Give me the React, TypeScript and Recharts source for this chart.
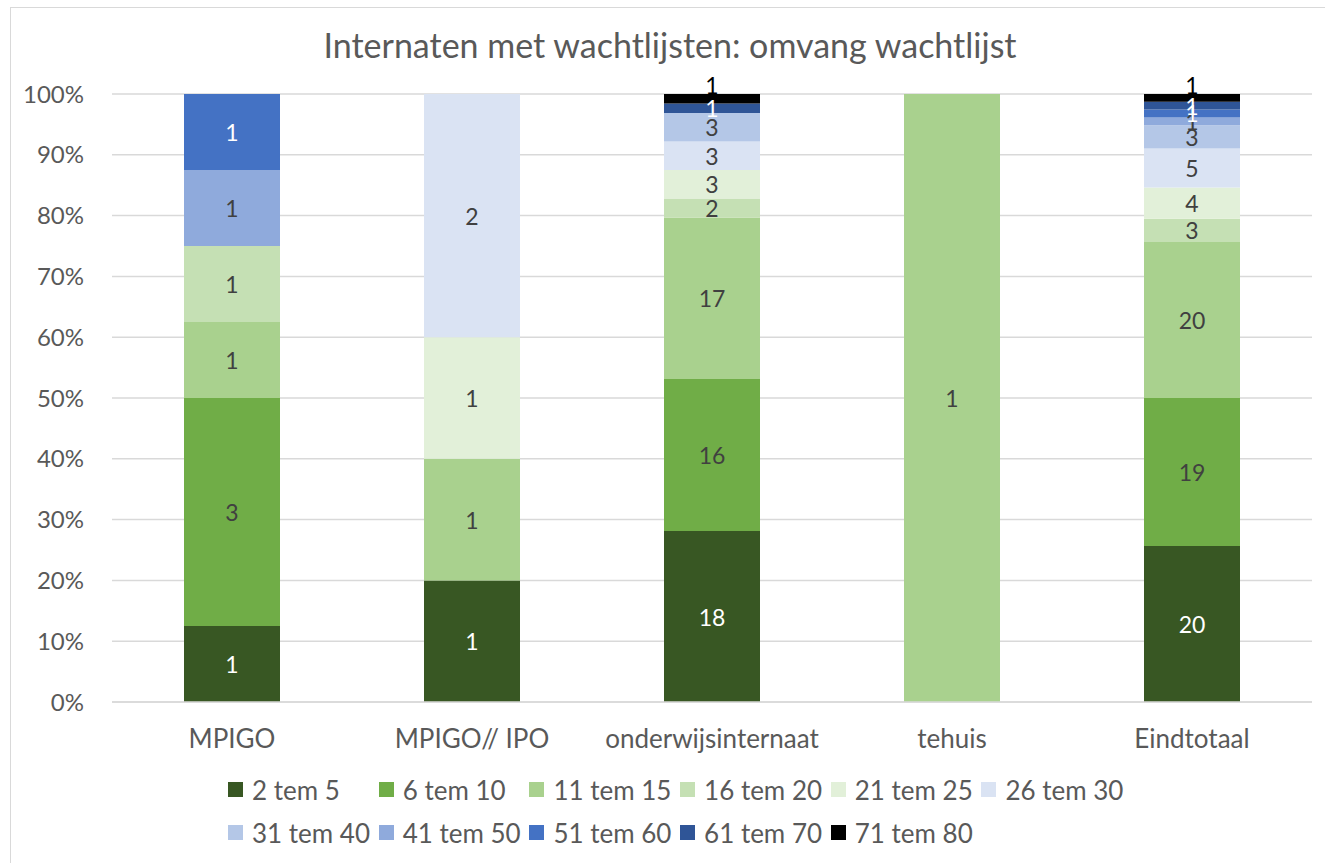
import React from 'react';
import { BarChart, Bar, XAxis, YAxis, CartesianGrid, LabelList } from 'recharts';

const categories = ['MPIGO', 'MPIGO// IPO', 'onderwijsinternaat', 'tehuis', 'Eindtotaal'];

const seriesNames = [
  '2 tem 5', '6 tem 10', '11 tem 15', '16 tem 20', '21 tem 25', '26 tem 30',
  '31 tem 40', '41 tem 50', '51 tem 60', '61 tem 70', '71 tem 80',
];

const seriesColors = [
  '#385723', '#70ad47', '#a9d18e', '#c5e0b4', '#e2f0d9', '#dae3f3',
  '#b4c7e7', '#8faadc', '#4472c4', '#2f5597', '#000000',
];

const labelColors = [
  '#ffffff', '#404040', '#404040', '#404040', '#404040', '#404040',
  '#404040', '#404040', '#ffffff', '#ffffff', '#000000',
];

const s2tem5 = [1, 1, 18, 0, 20];
const s6tem10 = [3, 0, 16, 0, 19];
const s11tem15 = [1, 1, 17, 1, 20];
const s16tem20 = [1, 0, 2, 0, 3];
const s21tem25 = [0, 1, 3, 0, 4];
const s26tem30 = [0, 2, 3, 0, 5];
const s31tem40 = [0, 0, 3, 0, 3];
const s41tem50 = [1, 0, 0, 0, 1];
const s51tem60 = [1, 0, 0, 0, 1];
const s61tem70 = [0, 0, 1, 0, 1];
const s71tem80 = [0, 0, 1, 0, 1];

const seriesValues = [
  s2tem5, s6tem10, s11tem15, s16tem20, s21tem25, s26tem30,
  s31tem40, s41tem50, s51tem60, s61tem70, s71tem80,
];

const yTicks = [0, 0.1, 0.2, 0.3, 0.4, 0.5, 0.6, 0.7, 0.8, 0.9, 1];

const data = categories.map((name, i) => {
  const row: Record<string, any> = { name };
  seriesValues.forEach((vals, s) => {
    row['s' + s] = vals[i];
  });
  return row;
});

const FONT = 'Lato, "Open Sans", sans-serif';
const TEXT = '#595959';

const makeLabel = (s: number) => (props: any) => {
  const { x, y, width, height, value } = props;
  const v = Number(value);
  if (!v) return null;
  const cx = Number(x) + Number(width) / 2;
  const top = Number(y);
  const h = Number(height);
  const isLast = s === seriesValues.length - 1;
  const cy = isLast ? top - 9 : top + h / 2;
  return (
    <text
      x={cx}
      y={cy}
      textAnchor="middle"
      dominantBaseline="central"
      fill={labelColors[s]}
      fontSize={23}
      fontFamily={FONT}
    >
      {v}
    </text>
  );
};

export default function App() {
  return (
    <div
      style={{
        position: 'absolute',
        left: 0,
        top: 0,
        width: 1325,
        height: 863,
        background: '#ffffff',
        overflow: 'hidden',
        fontFamily: FONT,
      }}
    >
      <div
        style={{
          position: 'absolute',
          left: 10,
          top: 7,
          width: 1330,
          height: 880,
          border: '1.5px solid #d9d9d9',
          boxSizing: 'border-box',
        }}
      />
      <div
        style={{
          position: 'absolute',
          left: 10,
          width: 1320,
          top: 24,
          textAlign: 'center',
          fontSize: 34,
          color: TEXT,
          lineHeight: '42px',
        }}
      >
        Internaten met wachtlijsten: omvang wachtlijst
      </div>
      <div style={{ position: 'absolute', left: 0, top: 0 }}>
        <BarChart
          width={1325}
          height={863}
          data={data}
          stackOffset="expand"
          barCategoryGap="30%"
          margin={{ top: 94, right: 13, bottom: 131, left: 12 }}
        >
          <CartesianGrid vertical={false} stroke="#d9d9d9" strokeWidth={1.5} />
          <XAxis
            dataKey="name"
            height={30}
            tickLine={false}
            axisLine={{ stroke: '#d9d9d9', strokeWidth: 1.5 }}
            tick={{ fill: TEXT, fontSize: 26, fontFamily: FONT }}
            tickMargin={22}
            interval={0}
          />
          <YAxis
            width={100}
            domain={[0, 1]}
            ticks={yTicks}
            tickFormatter={(v: number) => `${Math.round(v * 100)}%`}
            axisLine={false}
            tickLine={false}
            tickMargin={22}
            tick={{ fill: TEXT, fontSize: 24, fontFamily: FONT }}
          />
          {seriesNames.map((name, s) => (
            <Bar
              key={name}
              dataKey={'s' + s}
              name={name}
              stackId="a"
              fill={seriesColors[s]}
              isAnimationActive={false}
            >
              <LabelList dataKey={'s' + s} content={makeLabel(s)} />
            </Bar>
          ))}
        </BarChart>
      </div>
      <div
        style={{
          position: 'absolute',
          left: 228,
          top: 768,
          width: 920,
          display: 'flex',
          flexWrap: 'wrap',
        }}
      >
        {seriesNames.map((name, s) => (
          <div
            key={name}
            style={{
              width: 150.7,
              height: 43,
              display: 'flex',
              alignItems: 'center',
              fontSize: 26,
              color: TEXT,
              whiteSpace: 'nowrap',
            }}
          >
            <span
              style={{
                display: 'inline-block',
                width: 15,
                height: 15,
                background: seriesColors[s],
                marginRight: 9,
                flexShrink: 0,
              }}
            />
            {name}
          </div>
        ))}
      </div>
    </div>
  );
}
